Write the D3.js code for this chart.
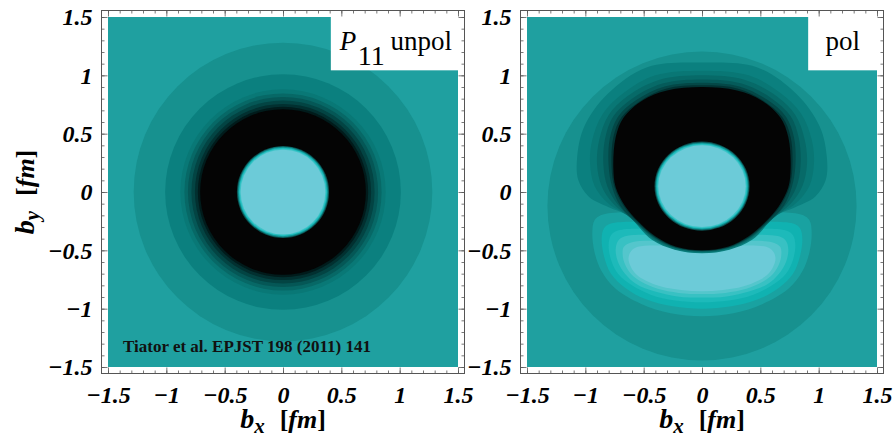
<!DOCTYPE html>
<html>
<head>
<meta charset="utf-8">
<script src="https://cdn.jsdelivr.net/npm/d3@7"></script>
<style>
body { margin: 0; background: #fff; }
svg { display: block; }
</style>
</head>
<body>
<div id="chart-area"></div>
<script>
/*
*    transverse densities, P11 unpol / pol
*/

var width = 894
var height = 438

// axis ticks (fm)
var ticks = [-1.5, -1, -0.5, 0, 0.5, 1, 1.5]
var tickLabels = ["\u22121.5", "\u22121", "\u22120.5", "0", "0.5", "1", "1.5"]

// unpolarized: concentric contour radii (fm), outer first
var unpolRadii = [1.28, 1.01, 0.88, 0.845, 0.815, 0.785, 0.755, 0.73, 0.71]
var darkColors = ["#17918f", "#0b807f", "#097876", "#076866", "#055756", "#034443", "#023030", "#011b1b", "#040404"]

// bright core: radii (fm)
var coreRadii = [0.395, 0.387, 0.379, 0.371, 0.363]
var coreColors = ["#0a4f4f", "#0e8c8c", "#1bbcbc", "#3fc4c8", "#6ccbd8"]

// polarized: outer halo circle [cx, cy, r]
var polHalo = [0, -0.12, 1.325]

// polarized: dark cap contours, left half from top to bottom [bx, by]
var polCap = [
  [[0, 1.11], [-0.47, 1.07], [-0.81, 0.84], [-1.01, 0.56], [-1.07, 0.3], [-1.06, 0.1], [-0.97, -0.04], [-0.8, -0.13], [-0.64, -0.2], [-0.43, -0.41], [-0.235, -0.495], [0, -0.525]],
  [[0, 1.04], [-0.4, 1.0], [-0.67, 0.85], [-0.85, 0.67], [-0.94, 0.45], [-0.96, 0.25], [-0.92, 0.05], [-0.8, -0.1], [-0.64, -0.2], [-0.42, -0.405], [-0.23, -0.49], [0, -0.52]],
  [[0, 1.0], [-0.37, 0.96], [-0.64, 0.82], [-0.8, 0.66], [-0.88, 0.45], [-0.9, 0.24], [-0.86, 0.05], [-0.76, -0.1], [-0.6, -0.23], [-0.415, -0.4], [-0.228, -0.485], [0, -0.515]],
  [[0, 0.965], [-0.34, 0.93], [-0.6, 0.8], [-0.76, 0.65], [-0.83, 0.46], [-0.845, 0.23], [-0.81, 0.045], [-0.72, -0.11], [-0.555, -0.275], [-0.41, -0.395], [-0.226, -0.481], [0, -0.51]],
  [[0, 0.937], [-0.32, 0.905], [-0.56, 0.79], [-0.72, 0.645], [-0.79, 0.46], [-0.8, 0.22], [-0.77, 0.042], [-0.7, -0.12], [-0.55, -0.27], [-0.406, -0.39], [-0.224, -0.477], [0, -0.505]],
  [[0, 0.914], [-0.31, 0.885], [-0.53, 0.78], [-0.69, 0.64], [-0.76, 0.47], [-0.775, 0.215], [-0.75, 0.041], [-0.67, -0.122], [-0.545, -0.264], [-0.403, -0.385], [-0.222, -0.473], [0, -0.502]],
  [[0, 0.9], [-0.3, 0.87], [-0.51, 0.785], [-0.67, 0.64], [-0.74, 0.47], [-0.76, 0.21], [-0.74, 0.04], [-0.66, -0.12], [-0.54, -0.26], [-0.4, -0.38], [-0.22, -0.47], [0, -0.5]]
]
var capColors = ["#0b807f", "#097775", "#076a68", "#055b5a", "#044847", "#023232", "#040404"]

// polarized: bright crescent contours, left half from top to bottom
var polCrescent = [
  [[0, -0.19], [-0.84, -0.19], [-0.92, -0.24], [-0.94, -0.35], [-0.92, -0.52], [-0.86, -0.68], [-0.74, -0.83], [-0.52, -0.96], [-0.27, -1.04], [0, -1.066]],
  [[0, -0.27], [-0.78, -0.27], [-0.84, -0.31], [-0.86, -0.4], [-0.84, -0.55], [-0.78, -0.7], [-0.66, -0.82], [-0.48, -0.92], [-0.25, -0.98], [0, -1.0]],
  [[0, -0.33], [-0.72, -0.33], [-0.78, -0.37], [-0.8, -0.45], [-0.78, -0.58], [-0.72, -0.7], [-0.6, -0.8], [-0.44, -0.88], [-0.23, -0.93], [0, -0.945]],
  [[0, -0.38], [-0.66, -0.38], [-0.72, -0.42], [-0.74, -0.5], [-0.72, -0.6], [-0.66, -0.7], [-0.56, -0.79], [-0.41, -0.85], [-0.21, -0.895], [0, -0.905]],
  [[0, -0.43], [-0.6, -0.43], [-0.67, -0.47], [-0.68, -0.54], [-0.66, -0.62], [-0.61, -0.7], [-0.52, -0.77], [-0.38, -0.83], [-0.2, -0.865], [0, -0.875]],
  [[0, -0.47], [-0.55, -0.47], [-0.61, -0.51], [-0.63, -0.57], [-0.61, -0.64], [-0.56, -0.71], [-0.48, -0.76], [-0.35, -0.81], [-0.18, -0.84], [0, -0.85]]
]
var crescentColors = ["#19a2a1", "#10b2b1", "#1dbaba", "#38c1c3", "#54c6cc", "#6ccbd8"]

// polarized core ellipse [cx, cy, rx, ry]
var polCore = [0, 0.05, 0.375, 0.35]

var bgColor = "#1fa0a0"
var size = 350
var plotTop = 17
var pad = 6.5
var font = "'Liberation Serif', 'Times New Roman', serif"

var svg = d3.select("#chart-area").append("svg")
.attr("width", width)
.attr("height", height)

var line = d3.line().curve(d3.curveCatmullRomClosed.alpha(0.5))

function makePanel(x0, id) {
	var x = d3.scaleLinear().domain([-1.5, 1.5]).range([x0, x0 + size])
	var y = d3.scaleLinear().domain([-1.5, 1.5]).range([plotTop + size, plotTop])
	var g = svg.append("g")
	g.append("clipPath").attr("id", id).append("rect")
	.attr("x", x(-1.5)).attr("y", y(1.5))
	.attr("width", size).attr("height", size)
	var plot = g.append("g").attr("clip-path", "url(#" + id + ")")
	plot.append("rect")
	.attr("x", x(-1.5)).attr("y", y(1.5))
	.attr("width", size).attr("height", size)
	.attr("fill", bgColor)
	return {x: x, y: y, g: g, plot: plot}
}

function ellipse(p, cx, cy, rx, ry, color) {
	p.plot.append("ellipse")
	.attr("cx", p.x(cx)).attr("cy", p.y(cy))
	.attr("rx", p.x(rx) - p.x(0)).attr("ry", p.y(0) - p.y(ry))
	.attr("fill", color)
}

// closes a left half outline with its mirror image
function outline(p, half, color) {
	var right = half.slice(1, -1).reverse().map(d => [-d[0], d[1]])
	var pts = half.concat(right).map(d => [p.x(d[0]), p.y(d[1])])
	p.plot.append("path").attr("d", line(pts)).attr("fill", color)
}

function title(sel, sub) {
	sel.attr("text-anchor", "middle")
	.attr("font-family", font).attr("font-size", 26)
	.attr("font-weight", "bold").attr("font-style", "italic")
	sel.append("tspan").attr("font-size", 28).text("b")
	sel.append("tspan").attr("dy", 5).attr("font-size", 21).text(sub)
	sel.append("tspan").attr("dy", -5).attr("dx", 15).attr("font-style", "normal").text("[")
	sel.append("tspan").text("fm")
	sel.append("tspan").attr("font-style", "normal").text("]")
}

function frame(p) {
	var L = p.x(-1.5) - pad, R = p.x(1.5) + pad
	var T = p.y(1.5) - pad, B = p.y(-1.5) + pad
	var minor = d3.range(-15, 16).map(d => d / 10)

	var axes = [
		[() => d3.axisBottom(p.x), "translate(0," + B + ")", true, 12],
		[() => d3.axisTop(p.x), "translate(0," + T + ")", false, 0],
		[() => d3.axisLeft(p.y), "translate(" + L + ",0)", true, 9],
		[() => d3.axisRight(p.y), "translate(" + R + ",0)", false, 0]
	]
	axes.forEach(a => {
		var gm = p.g.append("g").attr("transform", a[1])
		gm.call(a[0]().tickValues(minor).tickSize(-3).tickFormat(""))
		var gM = p.g.append("g").attr("transform", a[1])
		gM.call(a[0]().tickValues(ticks).tickSize(-6).tickPadding(a[3])
			.tickFormat((d, i) => a[2] ? tickLabels[i] : ""))
		;[gm, gM].forEach(s => {
			s.select(".domain").remove()
			s.selectAll(".tick line").attr("stroke", "#555").attr("stroke-width", 0.8)
		})
		gM.selectAll("text")
		.attr("fill", "#000")
		.style("font-family", font).style("font-size", "24px")
		.style("font-weight", "bold").style("font-style", "italic")
	})

	p.g.append("rect")
	.attr("x", L).attr("y", T)
	.attr("width", R - L).attr("height", B - T)
	.attr("fill", "none").attr("stroke", "#555").attr("stroke-width", 1)

	title(p.g.append("text").attr("x", p.x(0)).attr("y", 428), "x")
}

// LEFT: unpolarized
var left = makePanel(108, "clipL")
unpolRadii.forEach((r, i) => ellipse(left, 0, 0, r, r, darkColors[i]))
coreRadii.forEach((r, i) => ellipse(left, 0, 0, r, r, coreColors[i]))

left.plot.append("text")
.attr("x", left.x(-1.5) + 15).attr("y", left.y(-1.5) - 15)
.attr("font-family", font).attr("font-size", 17).attr("font-weight", "bold")
.attr("fill", "#111")
.text("Tiator et al. EPJST 198 (2011) 141")

// RIGHT: polarized
var right = makePanel(527, "clipR")
ellipse(right, polHalo[0], polHalo[1], polHalo[2], polHalo[2], darkColors[0])
polCrescent.forEach((c, i) => outline(right, c, crescentColors[i]))
polCap.forEach((c, i) => outline(right, c, capColors[i]))
coreRadii.forEach((r, i) => {
	var dr = coreRadii[0] - r
	ellipse(right, polCore[0], polCore[1], polCore[2] + 0.032 - dr, polCore[3] + 0.032 - dr, coreColors[i])
})

// label boxes
var boxBottom = 1.043
left.plot.append("rect")
.attr("x", left.x(0.41)).attr("y", left.y(1.5))
.attr("width", left.x(1.5) - left.x(0.41)).attr("height", left.y(boxBottom) - left.y(1.5))
.attr("fill", "#fff")
right.plot.append("rect")
.attr("x", right.x(0.91)).attr("y", right.y(1.5))
.attr("width", right.x(1.5) - right.x(0.91)).attr("height", right.y(boxBottom) - right.y(1.5))
.attr("fill", "#fff")

left.g.append("text")
.attr("x", left.x(0.41) + 9).attr("y", 50)
.attr("font-family", font).attr("font-size", 27).attr("font-style", "italic")
.text("P")
left.g.append("text")
.attr("x", left.x(0.41) + 27).attr("y", 65)
.attr("font-family", font).attr("font-size", 28)
.text("11")
left.g.append("text")
.attr("x", left.x(1.5) - 6).attr("y", 50)
.attr("text-anchor", "end")
.attr("font-family", font).attr("font-size", 27)
.text("unpol")
right.g.append("text")
.attr("x", right.x(1.5) - 17).attr("y", 50)
.attr("text-anchor", "end")
.attr("font-family", font).attr("font-size", 27)
.text("pol")

frame(left)
frame(right)

// y title
title(svg.append("text").attr("transform", "translate(34," + left.y(0) + ") rotate(-90)"), "y")
</script>
</body>
</html>
